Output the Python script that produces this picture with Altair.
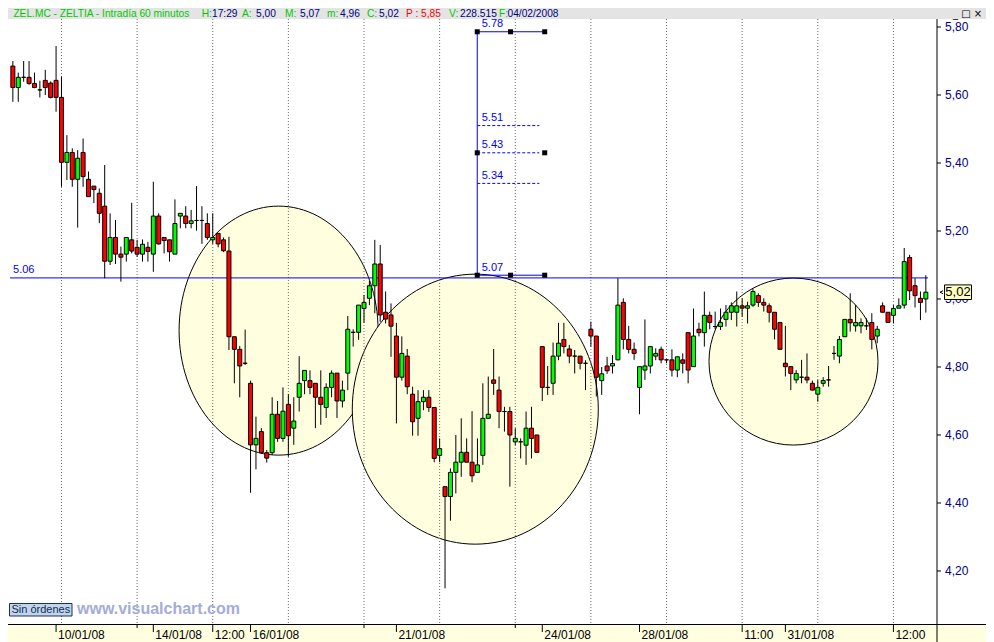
import altair as alt
import pandas as pd

# ---------------- data ----------------
opens = [5.685, 5.622, 5.652, 5.652, 5.634, 5.615, 5.643, 5.635, 5.643, 5.593,
         5.402, 5.431, 5.352, 5.431, 5.352, 5.332, 5.311, 5.273, 5.111, 5.181,
         5.132, 5.132, 5.174, 5.152, 5.132, 5.152, 5.132, 5.244, 5.181, 5.174,
         5.132, 5.244, 5.244, 5.222, 5.231, 5.231, 5.222, 5.174, 5.193, 5.174,
         5.141, 4.889, 4.852, 4.811, 4.752, 4.571, 4.610, 4.548, 4.548, 4.661,
         4.590, 4.690, 4.620, 4.711, 4.760, 4.760, 4.752, 4.711, 4.681, 4.740,
         4.782, 4.700, 4.782, 4.902, 4.902, 4.972, 5.002, 5.039, 5.103, 4.961,
         4.953, 4.891, 4.770, 4.832, 4.720, 4.649, 4.698, 4.711, 4.681, 4.540,
         4.448, 4.419, 4.490, 4.520, 4.549, 4.520, 4.490, 4.540, 4.649, 4.762,
         4.732, 4.669, 4.669, 4.580, 4.580, 4.570, 4.620, 4.600, 4.860, 4.740,
         4.752, 4.832, 4.881, 4.853, 4.832, 4.832, 4.811, 4.911, 4.891, 4.760,
         4.803, 4.803, 4.821, 4.990, 4.881, 4.852, 4.740, 4.791, 4.803, 4.832,
         4.852, 4.821, 4.821, 4.791, 4.821, 4.901, 4.801, 4.911, 4.901, 4.952,
         4.919, 4.919, 4.940, 4.961, 4.961, 4.980, 4.973, 4.982, 5.010, 4.990,
         4.980, 4.961, 4.931, 4.811, 4.801, 4.762, 4.770, 4.770, 4.752, 4.720,
         4.752, 4.762, 4.840, 4.832, 4.889, 4.940, 4.921, 4.921, 4.921, 4.931,
         4.891, 4.980, 4.961, 4.952, 4.973, 4.982, 5.122, 5.039, 5.002, 5.000]
highs = [5.700, 5.666, 5.700, 5.700, 5.666, 5.642, 5.674, 5.640, 5.744, 5.654,
         5.482, 5.443, 5.438, 5.472, 5.375, 5.332, 5.325, 5.394, 5.252, 5.232,
         5.154, 5.181, 5.283, 5.174, 5.175, 5.168, 5.345, 5.252, 5.181, 5.174,
         5.293, 5.252, 5.273, 5.262, 5.332, 5.273, 5.252, 5.252, 5.193, 5.181,
         5.183, 4.889, 4.862, 4.910, 4.760, 4.654, 4.620, 4.556, 4.711, 4.700,
         4.740, 4.720, 4.711, 4.832, 4.790, 4.790, 4.752, 4.790, 4.752, 4.790,
         4.782, 4.760, 4.950, 4.911, 4.982, 5.012, 5.053, 5.174, 5.159, 5.022,
         4.987, 4.930, 4.890, 4.853, 4.742, 4.732, 4.732, 4.732, 4.681, 4.590,
         4.448, 4.502, 4.600, 4.649, 4.590, 4.670, 4.590, 4.752, 4.772, 4.853,
         4.772, 4.683, 4.683, 4.620, 4.590, 4.669, 4.683, 4.600, 4.860, 4.803,
         4.872, 4.930, 4.930, 4.865, 4.850, 4.832, 4.820, 4.933, 4.891, 4.800,
         4.830, 4.835, 5.061, 5.002, 4.921, 4.872, 4.801, 4.940, 4.860, 4.855,
         4.860, 4.821, 4.852, 4.830, 4.840, 4.901, 4.972, 4.930, 5.022, 4.963,
         4.963, 4.972, 4.982, 4.990, 5.022, 5.002, 4.992, 5.031, 5.017, 5.002,
         4.987, 4.961, 4.931, 4.921, 4.801, 4.791, 4.821, 4.840, 4.760, 4.762,
         4.770, 4.803, 4.862, 4.891, 4.940, 5.017, 4.982, 4.943, 4.943, 4.958,
         4.921, 4.990, 4.961, 4.982, 5.002, 5.150, 5.130, 5.061, 5.022, 5.070]
lows = [5.580, 5.580, 5.639, 5.630, 5.620, 5.593, 5.600, 5.590, 5.551, 5.330,
        5.350, 5.330, 5.210, 5.330, 5.300, 5.282, 5.223, 5.061, 5.100, 5.103,
        5.051, 5.110, 5.134, 5.124, 5.110, 5.110, 5.080, 5.160, 5.134, 5.110,
        5.132, 5.208, 5.208, 5.208, 5.201, 5.162, 5.174, 5.162, 5.152, 5.138,
        4.850, 4.752, 4.711, 4.806, 4.430, 4.499, 4.545, 4.519, 4.541, 4.580,
        4.580, 4.536, 4.571, 4.669, 4.720, 4.720, 4.620, 4.630, 4.650, 4.711,
        4.650, 4.681, 4.732, 4.860, 4.880, 4.930, 4.982, 4.958, 4.933, 4.928,
        4.830, 4.634, 4.760, 4.720, 4.598, 4.598, 4.673, 4.668, 4.520, 4.520,
        4.149, 4.348, 4.428, 4.477, 4.520, 4.461, 4.490, 4.512, 4.649, 4.718,
        4.620, 4.610, 4.448, 4.570, 4.531, 4.512, 4.531, 4.549, 4.700, 4.718,
        4.718, 4.820, 4.840, 4.811, 4.781, 4.793, 4.732, 4.860, 4.713, 4.718,
        4.780, 4.781, 4.820, 4.852, 4.840, 4.821, 4.661, 4.762, 4.781, 4.820,
        4.811, 4.811, 4.772, 4.770, 4.781, 4.752, 4.800, 4.890, 4.860, 4.911,
        4.911, 4.909, 4.919, 4.938, 4.919, 4.948, 4.928, 4.977, 4.977, 4.963,
        4.931, 4.881, 4.852, 4.772, 4.732, 4.752, 4.752, 4.752, 4.732, 4.698,
        4.742, 4.742, 4.821, 4.811, 4.889, 4.904, 4.904, 4.899, 4.909, 4.852,
        4.870, 4.961, 4.931, 4.928, 4.973, 4.972, 4.997, 4.975, 4.938, 4.960]
closes = [5.622, 5.652, 5.652, 5.634, 5.622, 5.615, 5.622, 5.593, 5.593, 5.402,
          5.431, 5.352, 5.414, 5.360, 5.301, 5.322, 5.252, 5.111, 5.181, 5.132,
          5.123, 5.181, 5.141, 5.132, 5.161, 5.140, 5.244, 5.162, 5.172, 5.139,
          5.222, 5.252, 5.222, 5.230, 5.231, 5.231, 5.181, 5.181, 5.162, 5.142,
          4.889, 4.852, 4.803, 4.811, 4.571, 4.590, 4.548, 4.532, 4.661, 4.590,
          4.670, 4.598, 4.641, 4.752, 4.790, 4.740, 4.711, 4.690, 4.740, 4.782,
          4.700, 4.732, 4.911, 4.902, 4.982, 4.990, 5.039, 5.103, 4.953, 4.941,
          4.920, 4.770, 4.840, 4.742, 4.639, 4.698, 4.711, 4.681, 4.531, 4.560,
          4.419, 4.490, 4.520, 4.549, 4.520, 4.480, 4.512, 4.649, 4.661, 4.752,
          4.669, 4.669, 4.600, 4.590, 4.580, 4.620, 4.590, 4.549, 4.740, 4.740,
          4.832, 4.870, 4.860, 4.832, 4.832, 4.811, 4.811, 4.891, 4.770, 4.780,
          4.789, 4.810, 4.982, 4.881, 4.852, 4.840, 4.801, 4.803, 4.860, 4.840,
          4.821, 4.821, 4.791, 4.830, 4.811, 4.791, 4.891, 4.901, 4.952, 4.931,
          4.919, 4.931, 4.961, 4.980, 4.980, 4.973, 4.980, 5.022, 4.990, 4.982,
          4.961, 4.911, 4.852, 4.801, 4.781, 4.781, 4.770, 4.762, 4.732, 4.740,
          4.760, 4.762, 4.840, 4.881, 4.940, 4.930, 4.931, 4.931, 4.921, 4.881,
          4.911, 4.961, 4.931, 4.972, 4.980, 5.110, 5.024, 5.010, 4.990, 5.020]
bar_index = list(range(1, len(opens) + 1))

grid_idx = [10, 24, 38, 52, 66, 80, 94, 108, 122, 136, 150, 164]
xlab_idx = [9, 27, 38, 45, 72, 99, 117, 136, 144, 164]
xlab_text = ["10/01/08", "14/01/08", "12:00", "16/01/08", "21/01/08",
             "24/01/08", "28/01/08", "11:00", "31/01/08", "12:00"]
xminor_idx = [24, 66, 94]
y_ticks = [4.2, 4.4, 4.6, 4.8, 5.0, 5.2, 5.4, 5.6, 5.8]
y_tick_text = ["4,20", "4,40", "4,60", "4,80", "5,00", "5,20", "5,40", "5,60", "5,80"]

support_level = 5.062
support_label = "5.06"
support_span = [0.48, 170.4]

fib_x = [86.96, 93.13, 99.45]
fib_dash_end = 98.45
fib_solid = [5.786, 5.07]
fib_dashed = [5.51, 5.43, 5.34]
fib_levels = [5.786, 5.51, 5.43, 5.34, 5.07]
fib_labels = ["5.78", "5.51", "5.43", "5.34", "5.07"]
fib_marker_x = [fib_x[0], fib_x[1], fib_x[2], fib_x[0], fib_x[2], fib_x[0], fib_x[1], fib_x[2]]
fib_marker_p = [5.786, 5.786, 5.786, 5.43, 5.43, 5.07, 5.07, 5.07]

circ_i = [50.19, 86.6, 145.5]
circ_p = [4.907, 4.676, 4.816]

title_parts = ["ZEL.MC - ZELTIA - Intradía 60 minutos", "H:", "17:29", "A:", "5,00",
               "M:", "5,07", "m:", "4,96", "C:", "5,02", "P :", "5,85", "V:",
               "228.515", "F:", "04/02/2008"]
last_price_text = "5,02"

# ---------------- layout / style ----------------
W, H = 929, 604
GREEN_T, NAVY, RED_T = "#00C800", "#000080", "#FF0000"
title_colors = [GREEN_T, GREEN_T, NAVY, GREEN_T, NAVY, GREEN_T, NAVY, GREEN_T, NAVY,
                GREEN_T, NAVY, RED_T, RED_T, GREEN_T, NAVY, GREEN_T, NAVY]
title_px = [13.4, 201.7, 212, 242, 256, 285, 300, 327, 340, 367, 379, 406, 421,
            449, 460, 499, 507.5]
circ_w = [199, 246, 169]
circ_h = [249, 270, 167]
FONT = "Liberation Sans"

xscale = alt.Scale(domain=[1.027, 171.14], nice=False, zero=False)
yscale = alt.Scale(domain=[4.0441, 5.8206], nice=False, zero=False)
one = pd.DataFrame({"d": [0]})


def X(f):
    return alt.X(f, type="quantitative", scale=xscale, axis=None, title=None)


def Y(f):
    return alt.Y(f, type="quantitative", scale=yscale, axis=None, title=None)


df = pd.DataFrame({"i": bar_index, "o": opens, "h": highs, "l": lows, "c": closes})
df["dir"] = ["up" if c >= o else "down" for o, c in zip(opens, closes)]

layers = []

# title bar
layers.append(alt.Chart(one).mark_rect(color="#E4E4E4").encode(
    x=alt.value(-10), x2=alt.value(W + 60), y=alt.value(-12), y2=alt.value(-1)))
# bottom time band
layers.append(alt.Chart(one).mark_rect(color="#FFFFE0").encode(
    x=alt.value(-10), x2=alt.value(W + 60), y=alt.value(H), y2=alt.value(H + 20)))
layers.append(alt.Chart(one).mark_rect(color="black").encode(
    x=alt.value(-10), x2=alt.value(W + 60), y=alt.value(H), y2=alt.value(H + 1)))

# zones
for k in range(3):
    s = max(circ_w[k], circ_h[k])
    rx, ry = circ_w[k] / s, circ_h[k] / s
    path = (f"M {-rx:.4f} 0 A {rx:.4f} {ry:.4f} 0 1 1 {rx:.4f} 0 "
            f"A {rx:.4f} {ry:.4f} 0 1 1 {-rx:.4f} 0 Z")
    layers.append(
        alt.Chart(pd.DataFrame({"i": [circ_i[k]], "p": [circ_p[k]]}))
        .mark_point(shape=path, size=s * s, filled=True, fill="#FFFFE0",
                    stroke="black", strokeWidth=1, opacity=1)
        .encode(x=X("i"), y=Y("p"))
    )

# grid
layers.append(alt.Chart(pd.DataFrame({"g": grid_idx})).mark_rule(
    color="#6E6E6E", strokeDash=[1, 2], strokeWidth=1).encode(
    x=X("g"), y=alt.value(-1), y2=alt.value(H)))

# support line
sup = pd.DataFrame({"x0": [support_span[0]], "x1": [support_span[1]], "p": [support_level],
                    "t": [support_label]})
layers.append(alt.Chart(sup).mark_rule(color="#0000FF", strokeWidth=1).encode(
    x=X("x0"), x2="x1", y=Y("p")))
layers.append(alt.Chart(sup).mark_text(color="#0000FF", font=FONT, fontSize=11,
                                       align="left", baseline="alphabetic", dx=3, dy=-5).encode(
    x=X("x0"), y=Y("p"), text="t:N"))

# retracement tool
layers.append(alt.Chart(pd.DataFrame({"x": [fib_x[0]], "a": [fib_solid[0]], "b": [fib_solid[1]]}))
              .mark_rule(color="#0000FF", strokeWidth=1).encode(x=X("x"), y=Y("a"), y2="b"))
layers.append(alt.Chart(pd.DataFrame({"x0": [fib_x[0]] * 2, "x1": [fib_x[2]] * 2, "p": fib_solid}))
              .mark_rule(color="#0000FF", strokeWidth=1).encode(x=X("x0"), x2="x1", y=Y("p")))
layers.append(alt.Chart(pd.DataFrame({"x0": [fib_x[0]] * 3, "x1": [fib_dash_end] * 3, "p": fib_dashed}))
              .mark_rule(color="#0000FF", strokeWidth=1, strokeDash=[3, 2]).encode(
    x=X("x0"), x2="x1", y=Y("p")))
layers.append(alt.Chart(pd.DataFrame({"x": [fib_x[0]] * 5, "p": fib_levels, "t": fib_labels}))
              .mark_text(color="#0000FF", font=FONT, fontSize=11, align="left",
                         baseline="alphabetic", dx=4.5, dy=-4.5).encode(
    x=X("x"), y=Y("p"), text="t:N"))
layers.append(alt.Chart(pd.DataFrame({"x": fib_marker_x, "p": fib_marker_p})).mark_square(
    size=25, color="black", opacity=1).encode(x=X("x"), y=Y("p")))

# candles
layers.append(alt.Chart(df).mark_rule(color="black", strokeWidth=1).encode(
    x=X("i"), y=Y("l"), y2="h"))
layers.append(alt.Chart(df).mark_bar(size=4, stroke="black", strokeWidth=1, opacity=1).encode(
    x=X("i"), y=Y("o"), y2="c",
    color=alt.Color("dir:N", scale=alt.Scale(domain=["up", "down"], range=["#00FF00", "#FF0000"]),
                    legend=None)))

# time axis ticks and labels
xl = pd.DataFrame({"i": xlab_idx, "t": xlab_text})
layers.append(alt.Chart(xl).mark_rule(color="black", strokeWidth=1).encode(
    x=X("i"), y=alt.value(H + 1), y2=alt.value(H + 8)))
layers.append(alt.Chart(pd.DataFrame({"i": xminor_idx})).mark_rule(color="black", strokeWidth=1).encode(
    x=X("i"), y=alt.value(H), y2=alt.value(H + 4)))
layers.append(alt.Chart(xl).mark_text(font=FONT, fontSize=12, color="black", align="left",
                                      baseline="alphabetic", dx=2).encode(
    x=X("i"), y=alt.value(H + 15), text="t:N"))

# right-hand price scale (drawn by hand)
layers.append(alt.Chart(one).mark_rect(color="black").encode(
    x=alt.value(W - 0.5), x2=alt.value(W + 0.5), y=alt.value(-1), y2=alt.value(H + 20)))
yt = pd.DataFrame({"v": y_ticks, "t": y_tick_text})
layers.append(alt.Chart(yt).mark_rule(color="black", strokeWidth=1).encode(
    x=alt.value(W), x2=alt.value(W + 4), y=Y("v")))
layers.append(alt.Chart(yt).mark_text(font=FONT, fontSize=12, color=NAVY, align="left",
                                      baseline="middle").encode(
    x=alt.value(W + 8), y=Y("v"), text="t:N"))

# last price box
box = "M -1 -0.54 L 1 -0.54 L 1 0.54 L -1 0.54 Z"
chev = "M 1 -1 L -1 0 L 1 1"
lp = pd.DataFrame({"p": [closes[-1]], "t": [last_price_text]})
layers.append(alt.Chart(lp).mark_point(shape=box, size=729, filled=True, fill="#FFFFC0",
                                       stroke="black", strokeWidth=1, opacity=1).encode(
    x=alt.value(W + 21), y=Y("p")))
layers.append(alt.Chart(lp).mark_text(font=FONT, fontSize=13, color="black", align="center",
                                      baseline="middle").encode(
    x=alt.value(W + 21), y=Y("p"), text="t:N"))
layers.append(alt.Chart(lp).mark_point(shape=chev, size=9, filled=False, stroke="black",
                                       strokeWidth=1, opacity=1).encode(
    x=alt.value(W + 4.5), y=Y("p")))

# bottom-left button and watermark
layers.append(alt.Chart(one).mark_rect(fill="#C4D4F0", stroke="#1A3050", strokeWidth=1).encode(
    x=alt.value(1.5), x2=alt.value(64), y=alt.value(583.5), y2=alt.value(596)))
layers.append(alt.Chart(one).mark_text(font=FONT, fontSize=11, color="#103048", align="center",
                                       baseline="middle").encode(
    x=alt.value(32.8), y=alt.value(590), text=alt.value("Sin órdenes")))
layers.append(alt.Chart(one).mark_text(font=FONT, fontSize=16, fontWeight="bold", color="#A4ACD8",
                                       align="left", baseline="alphabetic").encode(
    x=alt.value(69), y=alt.value(593.5), text=alt.value("www.visualchart.com")))

# header texts
for t, col, px in zip(title_parts, title_colors, title_px):
    layers.append(alt.Chart(one).mark_text(font=FONT, fontSize=10.2, color=col, align="left",
                                           baseline="alphabetic").encode(
        x=alt.value(px - 8), y=alt.value(-3), text=alt.value(t)))
layers.append(alt.Chart(one).mark_text(font="DejaVu Sans", fontSize=10, color="black", align="left",
                                       baseline="alphabetic").encode(
    x=alt.value(W + 16), y=alt.value(-3), text=alt.value("_ □ ×")))

chart = alt.layer(*layers).properties(
    width=W, height=H,
    padding={"left": 0, "top": 12, "right": 49, "bottom": 18},
    autosize=alt.AutoSizeParams(type="none"),
    background="white",
).configure_view(stroke=None)

chart.save("out.html", embed_options={"renderer": "svg", "actions": False})
